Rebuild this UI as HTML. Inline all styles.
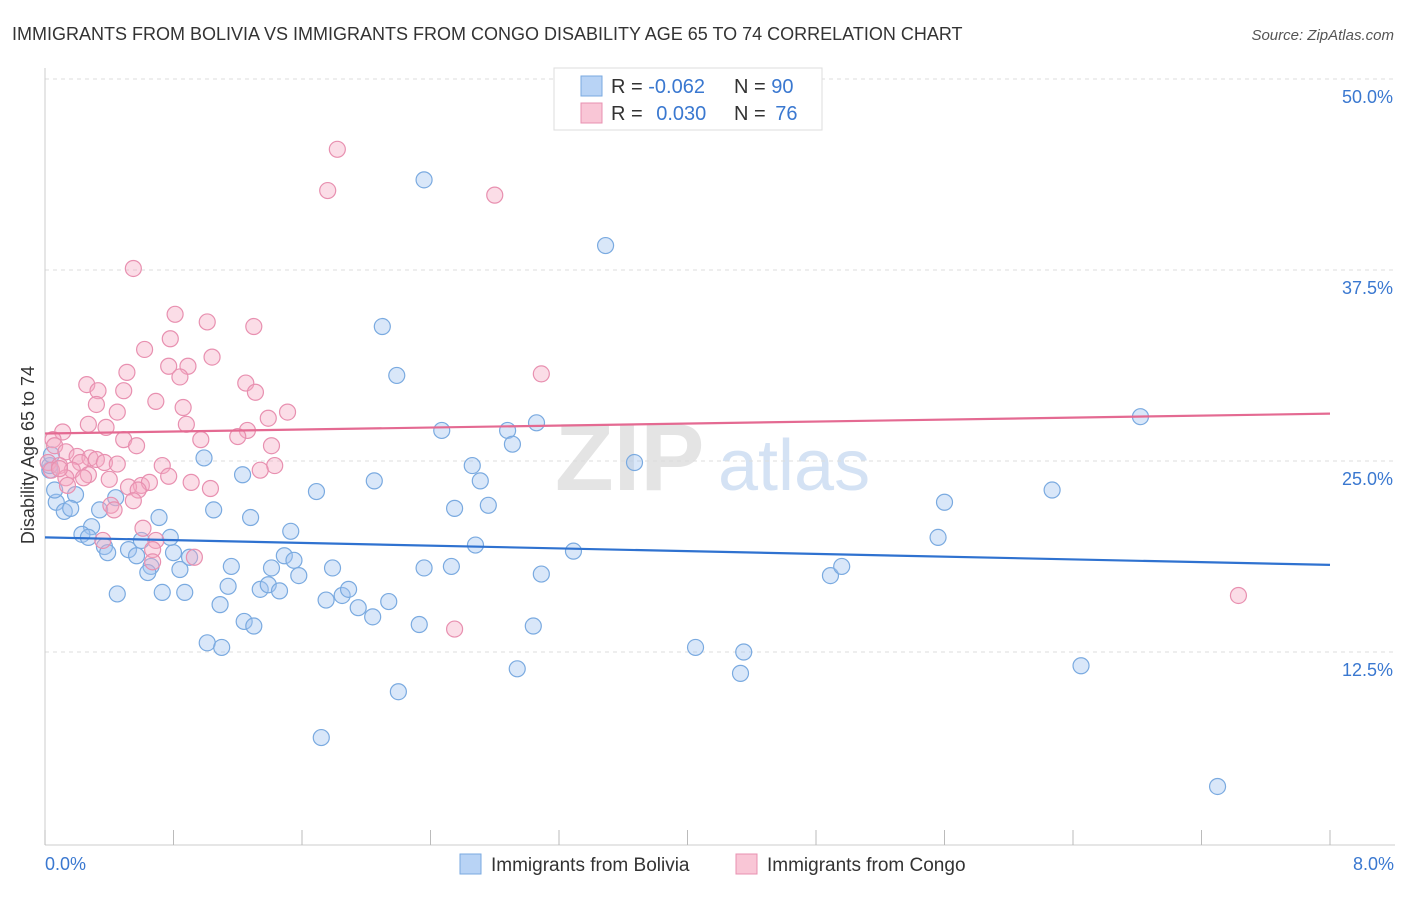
<!DOCTYPE html>
<html><head><meta charset="utf-8"><style>
body{margin:0;background:#fff;font-family:"Liberation Sans",sans-serif;}
svg text{font-family:"Liberation Sans",sans-serif;}
</style></head><body>
<svg id="chart" width="1406" height="892">
<text x="12" y="40" font-size="18" fill="#333">IMMIGRANTS FROM BOLIVIA VS IMMIGRANTS FROM CONGO DISABILITY AGE 65 TO 74 CORRELATION CHART</text>
<text x="1394" y="40" font-size="15" fill="#555" font-style="italic" text-anchor="end">Source: ZipAtlas.com</text>
<text x="555" y="490" font-size="96" fill="#e4e4e4" font-family="Liberation Serif" font-weight="bold">ZIP</text>
<text x="718" y="490" font-size="72" fill="#d4e2f4">atlas</text>
<g id="grid"></g>
<g id="axes"></g>
<g id="pts"></g>
<g id="trend"></g>
<text transform="translate(34,455) rotate(-90)" font-size="18" fill="#333" text-anchor="middle">Disability Age 65 to 74</text>
<text x="45" y="870" font-size="18" fill="#3a78d0">0.0%</text>
<text x="1394" y="870" font-size="18" fill="#3a78d0" text-anchor="end">8.0%</text>
<g>
<rect x="554" y="68" width="268" height="62" fill="#fff" stroke="#ddd"/>
<rect x="581" y="76" width="21" height="20" fill="#b8d3f5" stroke="#7aaae0"/>
<rect x="581" y="103" width="21" height="20" fill="#f9c6d6" stroke="#e890b0"/>
<text x="611" y="93" font-size="20" fill="#333">R = <tspan fill="#3a78d0">-0.062</tspan></text>
<text x="734" y="93" font-size="20" fill="#333">N = <tspan fill="#3a78d0">90</tspan></text>
<text x="611" y="120" font-size="20" fill="#333">R = <tspan fill="#3a78d0" dx="8">0.030</tspan></text>
<text x="734" y="120" font-size="20" fill="#333">N = <tspan fill="#3a78d0" dx="4">76</tspan></text>
</g>
<g>
<rect x="460" y="854" width="21" height="20" fill="#b8d3f5" stroke="#7aaae0"/>
<text x="491" y="871" font-size="19" fill="#333">Immigrants from Bolivia</text>
<rect x="736" y="854" width="21" height="20" fill="#f9c6d6" stroke="#e890b0"/>
<text x="767" y="871" font-size="19" fill="#333">Immigrants from Congo</text>
</g>
</svg>
<script>
const yTicks=[12.5,25,37.5,50];
const yTickLabels=["12.5%","25.0%","37.5%","50.0%"];
const blueX=[2.36,3.49,2.10,2.19,6.82,3.06,2.88,2.47,2.91,3.67,2.66,2.71,2.05,1.69,6.27,5.60,2.55,2.76,5.56,3.29,2.68,0.99,1.23,1.05,1.28,1.53,0.71,0.44,0.19,0.07,0.12,0.16,0.34,0.29,0.23,0.27,0.37,0.39,0.52,0.57,0.60,0.80,0.78,0.66,0.64,0.84,0.90,1.16,1.41,1.49,1.55,1.58,1.79,2.36,2.53,3.09,4.89,4.96,0.45,0.73,0.87,1.09,1.14,1.34,1.39,1.46,1.75,1.85,1.89,1.95,2.04,2.14,2.33,3.04,1.24,1.30,1.01,1.10,4.05,4.35,4.33,6.45,2.94,2.20,1.72,7.30,0.03,0.06,0.03,0.04];
const blueY=[43.4,39.1,33.8,30.6,27.9,27.5,27.0,27.0,26.1,24.9,24.7,23.7,23.7,23.0,23.1,22.3,21.9,22.1,20.0,19.1,19.5,25.2,24.1,21.8,21.3,20.4,21.3,22.6,22.8,22.3,21.7,21.9,21.8,20.7,20.2,20.0,19.4,19.0,19.2,18.8,19.8,19.0,20.0,18.1,17.7,17.9,18.7,18.1,18.0,18.8,18.5,17.5,18.0,18.0,18.1,17.6,17.5,18.1,16.3,16.4,16.4,15.6,16.8,16.6,16.9,16.5,15.9,16.2,16.6,15.4,14.8,15.8,14.3,14.2,14.5,14.2,13.1,12.8,12.8,12.5,11.1,11.6,11.4,9.9,6.9,3.7,24.4,23.1,24.7,25.4];
const pinkX=[1.82,1.76,2.80,0.55,0.81,1.01,1.30,0.78,0.62,1.04,0.89,0.77,0.84,0.51,3.09,0.26,1.25,1.31,0.33,0.49,0.69,0.32,0.86,0.45,1.51,1.39,0.27,0.88,0.38,1.26,0.11,0.05,1.20,0.06,0.97,0.49,0.57,1.41,0.13,0.20,0.28,0.22,0.32,0.37,0.02,0.09,0.04,0.45,0.73,1.43,1.34,0.17,0.27,0.13,0.24,0.77,0.40,0.91,1.03,0.60,0.65,0.52,0.58,0.55,0.41,0.43,0.61,0.36,0.69,0.67,0.67,0.93,2.55,7.43,0.14,0.09];
const pinkY=[45.4,42.7,42.4,37.6,34.6,34.1,33.8,33.0,32.3,31.8,31.2,31.2,30.5,30.8,30.7,30.0,30.1,29.5,29.6,29.6,28.9,28.7,28.5,28.2,28.2,27.8,27.4,27.4,27.2,27.0,26.9,26.4,26.6,26.0,26.4,26.4,26.0,26.0,25.6,25.3,25.2,24.9,25.1,24.9,24.9,24.7,24.4,24.8,24.7,24.7,24.4,24.4,24.1,23.9,23.9,24.0,23.8,23.6,23.2,23.4,23.6,23.3,23.1,22.4,22.1,21.8,20.6,19.8,19.8,19.2,18.4,18.7,14.0,16.2,23.4,24.5];
const blueTrend=[20.0,18.2];
const pinkTrend=[26.8,28.1];
const xDomain=[0,8];
const NS="http://www.w3.org/2000/svg";
const X0=45,X1=1330,Y0=843,Y50=79;
const sx=v=>X0+(v-xDomain[0])/(xDomain[1]-xDomain[0])*(X1-X0);
const sy=v=>Y0-v/50*(Y0-Y50);
function mk(tag,attrs,parent){const e=document.createElementNS(NS,tag);for(const k in attrs)e.setAttribute(k,attrs[k]);parent.appendChild(e);return e;}
const grid=document.getElementById('grid'),axes=document.getElementById('axes');
yTicks.forEach((t,i)=>{
  const l=mk('line',{x1:X0,x2:1395,y1:sy(t),y2:sy(t),stroke:'#ddd','stroke-dasharray':'4,4'},grid);
  
  
  const tx=mk('text',{x:1393,y:sy(t)+24,'font-size':18,fill:'#3a78d0','text-anchor':'end'},grid);
  tx.textContent=yTickLabels[i];
  
  
});
const ya=mk('line',{x1:X0,x2:X0,y1:68,y2:845,stroke:'#ccc'},axes);


const xa=mk('line',{x1:X0,x2:1395,y1:845,y2:845,stroke:'#ccc'},axes);


for(let i=0;i<=10;i++){
  const t=mk('line',{x1:sx(i*0.8),x2:sx(i*0.8),y1:830,y2:845,stroke:'#bbb'},axes);
  
  
}
const pts=document.getElementById('pts');
blueX.forEach((x,i)=>{
  const c=mk('circle',{cx:sx(x),cy:sy(blueY[i]),r:8,fill:'rgba(160,196,240,0.4)',stroke:'#7aaae0','stroke-width':1.2},pts);
  
  
});
pinkX.forEach((x,i)=>{
  const c=mk('circle',{cx:sx(x),cy:sy(pinkY[i]),r:8,fill:'rgba(245,170,195,0.4)',stroke:'#e890b0','stroke-width':1.2},pts);
  
  
});
const tr=document.getElementById('trend');
const bl=mk('line',{x1:sx(0),x2:sx(8),y1:sy(blueTrend[0]),y2:sy(blueTrend[1]),stroke:'#2f72d0','stroke-width':2.2},tr);


const pl=mk('line',{x1:sx(0),x2:sx(8),y1:sy(pinkTrend[0]),y2:sy(pinkTrend[1]),stroke:'#e46a92','stroke-width':2.2},tr);


</script>
</body></html>
